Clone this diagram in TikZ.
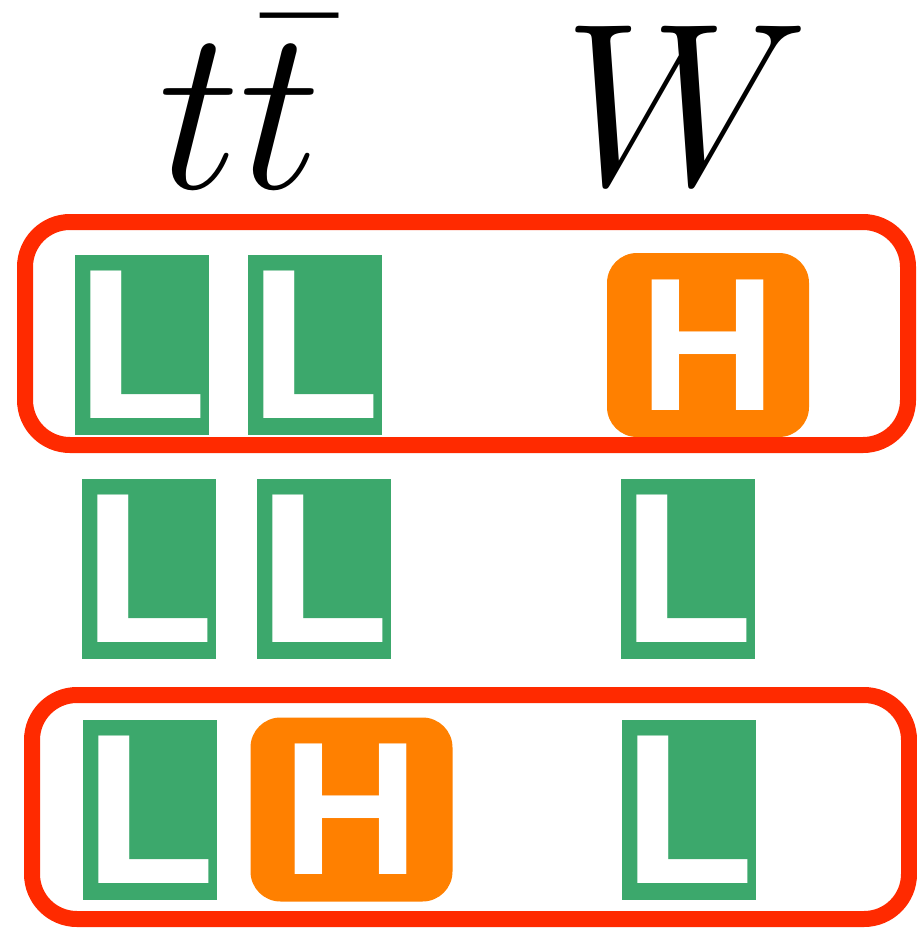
\documentclass[tikz,border=0pt]{standalone}
\usepackage{fontspec}
\newfontfamily\badgefont{Liberation Sans}
\usepackage{tikz}
\usepackage{xcolor}
\definecolor{lowgreen}{HTML}{3CA86C}
\definecolor{highorange}{HTML}{FF8000}
\definecolor{markred}{HTML}{FF2A00}

\tikzset{
  head/.style={anchor=base, inner sep=0pt, font=\Huge, scale=2.65},
  lbadge/.style={fill=lowgreen, text=white, minimum width=13.4mm, minimum height=18mm,
    inner sep=0pt, font=\badgefont\bfseries\fontsize{61}{61}\selectfont},
  hbadge/.style={fill=highorange, text=white, rounded corners=3mm, minimum width=20.2mm,
    minimum height=18.4mm, inner sep=0pt, font=\badgefont\bfseries\fontsize{54}{54}\selectfont},
  ring/.style={draw=markred, line width=1.6mm, rounded corners=4.5mm}
}

\begin{document}
\begin{tikzpicture}[x=0.1mm, y=-0.1mm]
\useasboundingbox (0,0) rectangle (916,929);
\node[head] (ttbar) at (240,189) {$t\bar{t}$};
\node[head] (wboson) at (686,185) {$W$};
\foreach \x/\y/\n in {141.5/345/r1a, 314.7/345/r1b, 148.5/569/r2a, 323.5/569/r2b,
                      688/569/r2c, 149.5/809.5/r3a, 688.5/809.5/r3c} {
  \node[lbadge] (\n) at (\x,\y) {L};
}
\node[hbadge] (r1c) at (708,345) {H};
\node[hbadge] (r3b) at (351.5,809.5) {H};
\draw[ring] (25,222) rectangle (908,445);
\draw[ring] (32,695) rectangle (909,919);
\end{tikzpicture}
\end{document}
